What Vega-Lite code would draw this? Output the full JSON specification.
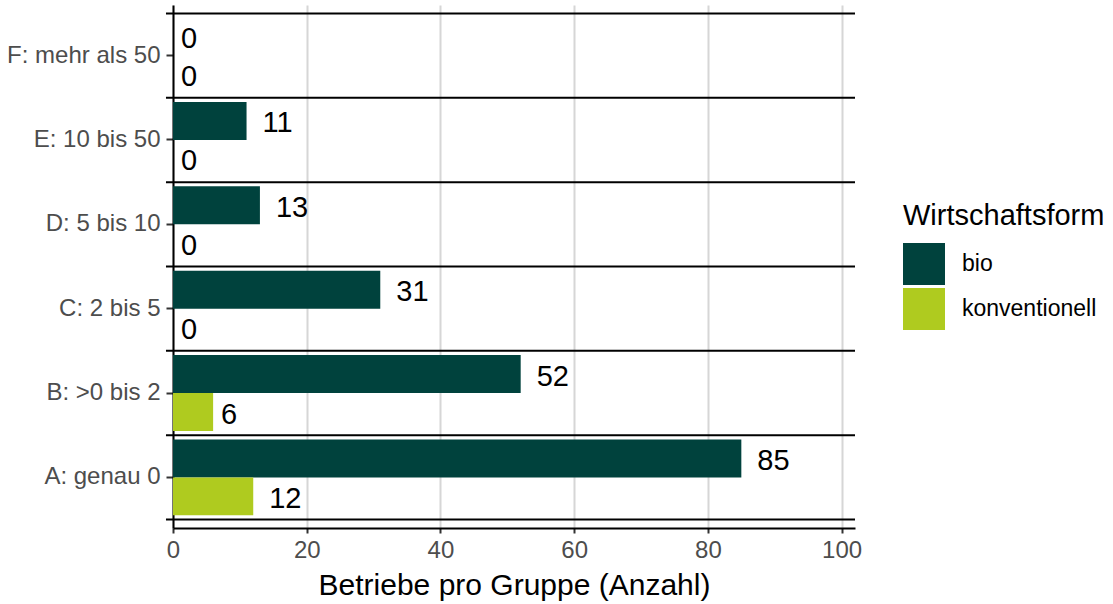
{
  "$schema": "https://vega.github.io/schema/vega-lite/v6.json",
  "autosize": "none",
  "width": 682,
  "height": 523,
  "padding": {"left": 173, "top": 5, "right": 258, "bottom": 76},
  "background": "white",
  "config": {"view": {"stroke": null}, "font": "Liberation Sans"},
  "data": {
    "values": [
      {"Gruppe": "F: mehr als 50", "Wirtschaftsform": "bio", "Anzahl": 0},
      {"Gruppe": "F: mehr als 50", "Wirtschaftsform": "konventionell", "Anzahl": 0},
      {"Gruppe": "E: 10 bis 50", "Wirtschaftsform": "bio", "Anzahl": 11},
      {"Gruppe": "E: 10 bis 50", "Wirtschaftsform": "konventionell", "Anzahl": 0},
      {"Gruppe": "D: 5 bis 10", "Wirtschaftsform": "bio", "Anzahl": 13},
      {"Gruppe": "D: 5 bis 10", "Wirtschaftsform": "konventionell", "Anzahl": 0},
      {"Gruppe": "C: 2 bis 5", "Wirtschaftsform": "bio", "Anzahl": 31},
      {"Gruppe": "C: 2 bis 5", "Wirtschaftsform": "konventionell", "Anzahl": 0},
      {"Gruppe": "B: >0 bis 2", "Wirtschaftsform": "bio", "Anzahl": 52},
      {"Gruppe": "B: >0 bis 2", "Wirtschaftsform": "konventionell", "Anzahl": 6},
      {"Gruppe": "A: genau 0", "Wirtschaftsform": "bio", "Anzahl": 85},
      {"Gruppe": "A: genau 0", "Wirtschaftsform": "konventionell", "Anzahl": 12}
    ]
  },
  "layer": [
    {
      "mark": {"type": "bar"},
      "encoding": {
        "y": {
          "field": "Gruppe", "type": "nominal",
          "sort": ["F: mehr als 50", "E: 10 bis 50", "D: 5 bis 10", "C: 2 bis 5", "B: >0 bis 2", "A: genau 0"],
          "scale": {"paddingInner": 0, "paddingOuter": 0.1},
          "axis": {"title": null, "domainColor": "black", "domainWidth": 2, "tickColor": "#333333", "tickWidth": 2, "tickSize": 7, "labelColor": "#4D4D4D", "labelFontSize": 24, "labelPadding": 6, "labelLimit": 300}
        },
        "yOffset": {
          "field": "Wirtschaftsform", "type": "nominal", "sort": ["bio", "konventionell"],
          "scale": {"paddingInner": 0, "paddingOuter": 0.111}
        },
        "x": {
          "field": "Anzahl", "type": "quantitative",
          "scale": {"domain": [0, 102], "nice": false, "zero": true},
          "axis": {"values": [0, 20, 40, 60, 80, 100], "grid": true, "gridColor": "#D6D6D6", "gridWidth": 2, "domainColor": "black", "domainWidth": 2, "tickColor": "#333333", "tickWidth": 2, "tickSize": 5, "labelColor": "#4D4D4D", "labelFontSize": 24, "labelPadding": 5, "labelFlush": false, "title": "Betriebe pro Gruppe (Anzahl)", "titleFontSize": 30, "titleFontWeight": "normal", "titleColor": "black", "titlePadding": 8}
        },
        "color": {
          "field": "Wirtschaftsform", "type": "nominal",
          "scale": {"domain": ["bio", "konventionell"], "range": ["#00423D", "#AFCB1F"]},
          "legend": {"orient": "none", "legendX": 730, "legendY": 197, "title": "Wirtschaftsform", "titleLimit": 400, "titleFontSize": 29, "titleFontWeight": "normal", "titleColor": "black", "labelFontSize": 23, "labelColor": "black", "labelLimit": 300, "symbolType": "square", "symbolSize": 1764, "symbolStrokeWidth": 0, "symbolOpacity": 1, "labelOffset": 17, "rowPadding": 3, "titlePadding": 12}
        }
      }
    },
    {
      "transform": [{"filter": "datum.Wirtschaftsform == 'bio'"}],
      "mark": {"type": "rule", "color": "black", "strokeWidth": 2},
      "encoding": {
        "y": {"field": "Gruppe", "type": "nominal", "bandPosition": 0, "sort": ["F: mehr als 50", "E: 10 bis 50", "D: 5 bis 10", "C: 2 bis 5", "B: >0 bis 2", "A: genau 0"]},
        "x": {"datum": -1.05, "type": "quantitative"},
        "x2": {"datum": 102}
      }
    },
    {
      "transform": [{"filter": "datum.Wirtschaftsform == 'bio' && datum.Gruppe == 'A: genau 0'"}],
      "mark": {"type": "rule", "color": "black", "strokeWidth": 2},
      "encoding": {
        "y": {"field": "Gruppe", "type": "nominal", "bandPosition": 1, "sort": ["F: mehr als 50", "E: 10 bis 50", "D: 5 bis 10", "C: 2 bis 5", "B: >0 bis 2", "A: genau 0"]},
        "x": {"datum": -1.05, "type": "quantitative"},
        "x2": {"datum": 102}
      }
    },
    {
      "transform": [{"filter": "datum.Anzahl >= 10"}],
      "mark": {"type": "text", "align": "left", "baseline": "middle", "dx": 16, "dy": 2.5, "fontSize": 29, "color": "black"},
      "encoding": {
        "y": {"field": "Gruppe", "type": "nominal", "sort": ["F: mehr als 50", "E: 10 bis 50", "D: 5 bis 10", "C: 2 bis 5", "B: >0 bis 2", "A: genau 0"]},
        "yOffset": {"field": "Wirtschaftsform", "type": "nominal", "sort": ["bio", "konventionell"]},
        "x": {"field": "Anzahl", "type": "quantitative"},
        "text": {"field": "Anzahl", "type": "quantitative"}
      }
    },
    {
      "transform": [{"filter": "datum.Anzahl < 10"}],
      "mark": {"type": "text", "align": "left", "baseline": "middle", "dx": 8, "dy": 2.5, "fontSize": 29, "color": "black"},
      "encoding": {
        "y": {"field": "Gruppe", "type": "nominal", "sort": ["F: mehr als 50", "E: 10 bis 50", "D: 5 bis 10", "C: 2 bis 5", "B: >0 bis 2", "A: genau 0"]},
        "yOffset": {"field": "Wirtschaftsform", "type": "nominal", "sort": ["bio", "konventionell"]},
        "x": {"field": "Anzahl", "type": "quantitative"},
        "text": {"field": "Anzahl", "type": "quantitative"}
      }
    }
  ]
}
